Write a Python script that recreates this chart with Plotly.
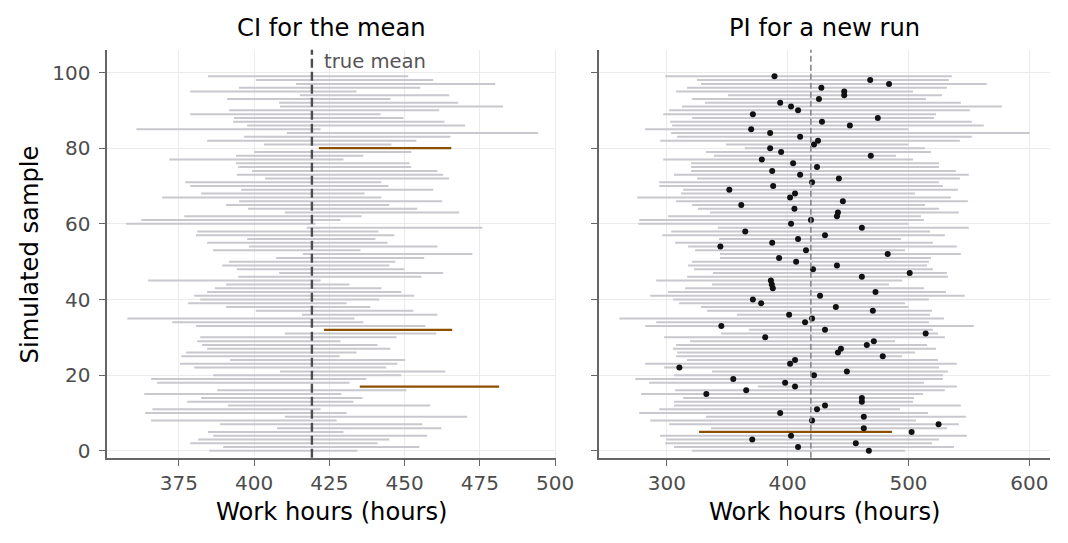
import plotly.graph_objects as go

TRUE_MEAN = 419.2
samples = list(range(100))

ci_lo = [385.1, 389.7, 378.8, 381.4, 386.4, 384.7, 407.6, 388.7, 365.8, 410.2,
         363.8, 366.2, 391.3, 377.8, 382.4, 363.5, 387.7, 435.1, 367.8, 365.8,
         386.4, 408.6, 380.1, 375.4, 392.0, 375.8, 377.4, 384.4, 382.7, 381.1,
         382.1, 410.2, 423.2, 380.7, 372.8, 357.9, 415.9, 400.6, 390.7, 378.1,
         382.1, 380.1, 384.4, 387.0, 390.7, 364.8, 394.7, 408.3, 394.3, 389.4,
         391.7, 407.3, 416.2, 386.4, 398.3, 384.4, 397.7, 380.7, 381.1, 417.5,
         357.5, 362.5, 376.8, 410.2, 398.0, 390.7, 395.0, 369.5, 382.4, 395.7,
         378.8, 377.1, 403.6, 394.3, 399.3, 394.7, 394.0, 371.8, 394.0, 400.0,
         421.5, 403.3, 384.4, 396.7, 410.9, 360.9, 397.7, 393.0, 393.3, 378.8,
         391.7, 408.6, 408.3, 391.0, 415.2, 378.8, 395.0, 413.9, 400.6, 384.7]

ci_hi = [434.3, 454.9, 441.0, 444.9, 457.5, 429.7, 462.2, 455.9, 427.4, 470.8,
         430.7, 422.1, 458.5, 433.0, 436.0, 429.0, 450.6, 481.4, 431.7, 437.3,
         448.9, 463.5, 443.9, 447.6, 450.2, 428.4, 434.0, 445.3, 441.0, 428.7,
         447.3, 460.5, 465.8, 456.9, 436.3, 433.3, 460.9, 452.9, 438.6, 430.7,
         441.6, 453.2, 448.9, 442.3, 431.7, 422.1, 455.6, 462.8, 449.9, 444.9,
         446.9, 456.5, 472.5, 435.3, 460.9, 444.3, 440.3, 446.6, 441.3, 475.8,
         420.4, 428.7, 435.7, 468.1, 454.2, 444.9, 462.5, 442.3, 436.7, 459.5,
         444.6, 442.3, 464.8, 462.8, 460.9, 452.2, 451.6, 429.7, 436.3, 452.2,
         465.5, 445.6, 453.9, 465.2, 494.3, 422.1, 470.1, 463.2, 449.6, 442.0,
         461.5, 482.7, 467.8, 445.3, 464.8, 434.0, 455.2, 480.1, 459.5, 451.2]

pi_lo = [320.9, 306.0, 298.6, 299.5, 294.5, 326.7, 336.6, 301.9, 286.3, 332.4,
         277.2, 293.7, 306.0, 306.0, 313.5, 278.8, 306.9, 375.3, 285.4, 273.9,
         306.0, 337.4, 297.8, 282.1, 316.8, 307.7, 308.5, 305.2, 307.7, 319.2,
         297.8, 344.8, 367.9, 282.1, 291.2, 260.7, 358.0, 333.3, 328.3, 310.2,
         305.2, 286.3, 301.1, 315.1, 337.4, 291.2, 316.8, 338.2, 322.5, 317.6,
         320.9, 344.0, 344.0, 323.4, 317.6, 306.9, 343.2, 296.2, 303.6, 342.3,
         276.4, 277.2, 301.1, 335.7, 325.8, 320.9, 307.7, 275.5, 311.8, 313.5,
         293.7, 293.7, 325.0, 306.0, 320.1, 320.1, 320.1, 297.0, 339.0, 332.4,
         364.6, 348.9, 294.5, 308.5, 303.6, 282.1, 304.4, 302.7, 320.9, 297.0,
         301.9, 312.6, 331.6, 320.9, 350.6, 307.7, 316.8, 328.3, 325.0, 298.6]

pi_hi = [497.1, 537.6, 519.4, 525.2, 548.3, 486.4, 531.8, 541.7, 506.2, 547.5,
         516.1, 493.0, 543.3, 503.7, 504.6, 512.0, 530.1, 540.0, 512.8, 528.5,
         528.5, 532.6, 525.2, 540.0, 524.4, 494.7, 505.4, 522.7, 515.3, 488.9,
         530.1, 524.4, 520.2, 554.1, 516.9, 529.3, 517.8, 519.4, 500.0, 497.1,
         516.9, 546.6, 531.0, 512.8, 483.9, 494.7, 532.6, 531.8, 520.2, 515.3,
         516.9, 518.6, 543.3, 497.1, 540.0, 520.2, 493.8, 530.1, 517.8, 549.9,
         500.0, 512.8, 510.3, 541.7, 525.2, 513.6, 549.1, 535.1, 505.4, 540.9,
         528.5, 525.2, 542.5, 549.9, 539.2, 525.2, 525.2, 503.7, 489.7, 518.6,
         513.6, 500.0, 542.5, 552.4, 600.2, 500.0, 562.3, 552.4, 521.1, 522.7,
         550.8, 577.2, 543.3, 514.5, 527.7, 503.7, 531.8, 564.8, 533.4, 535.9]

new_obs = [467.2, 408.6, 456.4, 370.7, 402.8, 502.6, 463.0, 524.9, 420.2, 463.0,
           393.8, 424.3, 430.9, 461.4, 461.4, 332.7, 365.7, 406.1, 397.9, 355.0,
           421.8, 449.0, 310.4, 402.0, 406.1, 478.7, 441.6, 444.1, 465.5, 471.3,
           381.4, 514.2, 430.9, 345.1, 414.4, 420.2, 401.2, 470.5, 439.9, 378.1,
           371.2, 426.8, 472.7, 387.7, 386.9, 386.1, 461.4, 501.0, 421.0, 440.8,
           407.0, 392.9, 482.8, 415.2, 344.3, 387.2, 408.6, 430.9, 364.9, 461.4,
           402.8, 419.3, 440.8, 441.6, 405.6, 361.6, 445.7, 402.0, 406.1, 351.7,
           388.0, 420.2, 442.4, 410.3, 387.2, 424.3, 404.5, 378.6, 468.8, 394.6,
           385.5, 421.8, 425.1, 410.3, 385.5, 369.8, 451.5, 428.4, 474.6, 371.2,
           408.6, 402.8, 393.8, 425.9, 446.8, 446.8, 427.9, 483.9, 468.3, 389.1]

ci_x_ticks = [375, 400, 425, 450, 475, 500]
pi_x_ticks = [300, 400, 500, 600]
y_ticks = [0, 20, 40, 60, 80, 100]

panel_titles = ["CI for the mean", "PI for a new run"]
x_title = "Work hours (hours)"
y_title = "Simulated sample"

GRAY = "#c8c8ce"
MISS = "#8c5000"
FONT = "DejaVu Sans"

ci_miss = [not (l <= TRUE_MEAN <= h) for l, h in zip(ci_lo, ci_hi)]
pi_miss = [not (l <= o <= h) for l, h, o in zip(pi_lo, pi_hi, new_obs)]


def segments(lo, hi, ys, mask, want):
    xs, yy = [], []
    for l, h, y, m in zip(lo, hi, ys, mask):
        if m == want:
            xs += [l, h, None]
            yy += [y, y, None]
    return xs, yy


W, H = 1068, 543
SX, OX = 0.985, -2.4
SY, OY = 0.992, -0.4


def fx(px):
    return min(1.0, max(0.0, ((px - OX) / SX) / W))


def fy(py):
    return min(1.0, max(0.0, 1 - ((py - OY) / SY) / H))


fig = go.Figure()

for lo, hi, mask, xa, ya in [(ci_lo, ci_hi, ci_miss, "x", "y"), (pi_lo, pi_hi, pi_miss, "x2", "y2")]:
    gx, gy = segments(lo, hi, samples, mask, False)
    fig.add_trace(go.Scatter(x=gx, y=gy, mode="lines", xaxis=xa, yaxis=ya,
                             line=dict(color=GRAY, width=2), hoverinfo="skip", showlegend=False))
    mx, my = segments(lo, hi, samples, mask, True)
    fig.add_trace(go.Scatter(x=mx, y=my, mode="lines", xaxis=xa, yaxis=ya,
                             line=dict(color=MISS, width=2.3), hoverinfo="skip", showlegend=False))

fig.add_shape(type="line", xref="x", yref="y domain", x0=TRUE_MEAN, x1=TRUE_MEAN, y0=0, y1=1,
              line=dict(color="#4d4d4d", width=2.4, dash="9px,4px"), layer="above")
fig.add_shape(type="line", xref="x2", yref="y2 domain", x0=TRUE_MEAN, x1=TRUE_MEAN, y0=0, y1=1,
              line=dict(color="#888888", width=1.6, dash="6px,3px"), layer="above")

fig.add_trace(go.Scatter(x=new_obs, y=samples, mode="markers", xaxis="x2", yaxis="y2",
                         marker=dict(color="#111111", size=6), hoverinfo="skip", showlegend=False))

xd1 = [fx(105), fx(555)]
xd2 = [fx(598), fx(1050)]
yd = [fy(458), fy(49.5)]

axis_common = dict(showline=True, linecolor="#666666", linewidth=1.6, ticks="outside",
                   ticklen=6, tickwidth=1.4, tickcolor="#666666", showgrid=True,
                   gridcolor="#ebebeb", gridwidth=1.1, zeroline=False,
                   tickfont=dict(family=FONT, size=20, color="#4d4d4d"))

fig.update_layout(
    width=W, height=H, margin=dict(l=0, r=0, t=0, b=0),
    paper_bgcolor="white", plot_bgcolor="white",
    font=dict(family=FONT),
    xaxis=dict(domain=xd1, range=[351.2, 500.4], tickvals=ci_x_ticks, anchor="y", **axis_common),
    xaxis2=dict(domain=xd2, range=[244.1, 617.1], tickvals=pi_x_ticks, anchor="y2", **axis_common),
    yaxis=dict(domain=yd, range=[-1.85, 106.0], tickvals=y_ticks, anchor="x",
               ticklabelstandoff=5, **axis_common),
    yaxis2=dict(domain=yd, range=[-1.85, 106.0], tickvals=y_ticks, anchor="x2",
                showticklabels=False, **axis_common),
)

ann = []
for title, px0, px1 in zip(panel_titles, [105, 598], [555, 1050]):
    cx = fx((px0 + px1) / 2)
    ann.append(dict(text=title, xref="paper", yref="paper", x=cx, y=fy(28),
                    xanchor="center", yanchor="middle", showarrow=False,
                    font=dict(family=FONT, size=24.2, color="black")))
    ann.append(dict(text=x_title, xref="paper", yref="paper", x=cx, y=fy(512),
                    xanchor="center", yanchor="middle", showarrow=False,
                    font=dict(family=FONT, size=24.2, color="black")))
ann.append(dict(text=y_title, xref="paper", yref="paper", x=fx(28), y=fy(254),
                xanchor="center", yanchor="middle", textangle=-90, showarrow=False,
                font=dict(family=FONT, size=24.2, color="black")))
ann.append(dict(text="true mean", xref="x", yref="y", x=TRUE_MEAN, y=103, xshift=10,
                xanchor="left", yanchor="middle", showarrow=False,
                font=dict(family=FONT, size=19.6, color="#555555")))
fig.update_layout(annotations=ann)

fig.write_html("out.html")
